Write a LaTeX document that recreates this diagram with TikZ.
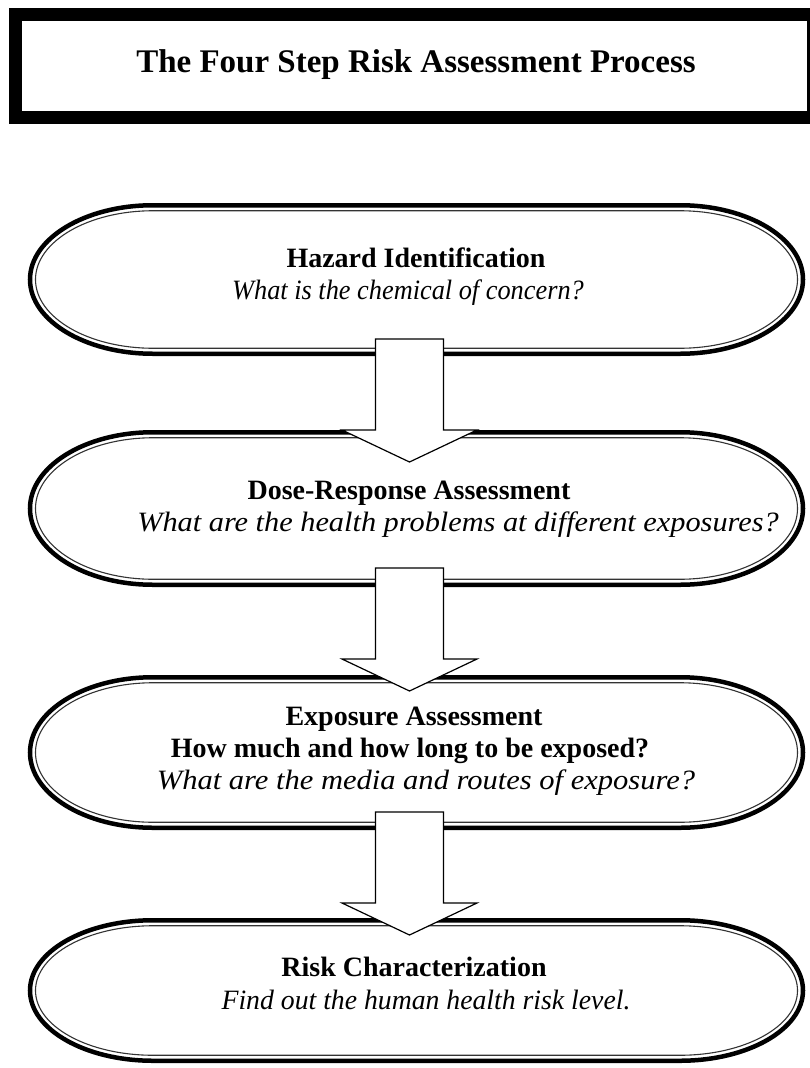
\documentclass[tikz,border=0pt]{standalone}
\usepackage{fontspec}
\setmainfont{Liberation Serif}
\newcommand\stadium[2]{%
  \pgfmathsetmacro\stadRy{(#2-#1)/2}%
  \pgfmathsetmacro\stadIRy{(#2-#1)/2-5.5}%
  \pgfmathsetmacro\stadIT{#1+5.5}%
  \pgfmathsetmacro\stadIB{#2-5.5}%
  \filldraw[fill=white,draw=black,line width=4.5pt]
    (153,#1) arc[start angle=90,end angle=270,x radius=123pt,y radius=\stadRy pt]
    -- (680,#2) arc[start angle=-90,end angle=90,x radius=123pt,y radius=\stadRy pt] -- cycle;
  \draw[draw=black!80,line width=1.1pt]
    (153,\stadIT) arc[start angle=90,end angle=270,x radius=117.5pt,y radius=\stadIRy pt]
    -- (680,\stadIB) arc[start angle=-90,end angle=90,x radius=117.5pt,y radius=\stadIRy pt] -- cycle;}
\tikzset{
  boldline/.style={font=\fontsize{28}{32}\selectfont\bfseries,anchor=base,inner sep=0pt},
  itline/.style={font=\fontsize{28}{32}\selectfont\itshape,anchor=base,inner sep=0pt},
  titletext/.style={font=\fontsize{33}{38}\selectfont\bfseries,anchor=base,inner sep=0pt},
  barrow/.style={draw=black,fill=white,line width=1.2pt,line join=miter}
}
\newcommand\blockarrow[1]{%
  \draw[barrow] (#1) ++(-34,0) -- ++(68,0) -- ++(0,91) -- ++(33.5,0) -- ++(-67.5,32)
    -- ++(-67.5,-32) -- ++(33.5,0) -- cycle;}
\begin{document}
\begin{tikzpicture}[x=1pt,y=-1pt]
\useasboundingbox (0,0) rectangle (810,1068);
\fill[white] (0,0) rectangle (810,1068);
% title box
\draw[line width=13pt,line join=miter] (15.5,14.5) rectangle (813,117.5);
\node[titletext] (title) at (416,72) {The Four Step Risk Assessment Process};
% boxes
\stadium{205.25}{353.75}
\stadium{432.25}{584.75}
\stadium{677.25}{827.75}
\stadium{920.25}{1060.75}
% arrows
\coordinate (a1) at (409.5,339);
\coordinate (a2) at (409.5,568);
\coordinate (a3) at (409.5,812);
\blockarrow{a1}
\blockarrow{a2}
\blockarrow{a3}
% texts
\node[boldline] (h1) at (416,267) {Hazard Identification};
\node[itline] (q1) at (408,299) {\scalebox{0.94}[1]{What is the chemical of concern?}};
\node[boldline] (h2) at (409,499) {Dose-Response Assessment};
\node[itline] (q2) at (458,531) {\scalebox{1.083}[1]{What are the health problems at different exposures?}};
\node[boldline] (h3) at (414,725) {Exposure Assessment};
\node[boldline] (h3b) at (410,757) {How much and how long to be exposed?};
\node[itline] (q3) at (426,789) {\scalebox{1.09}[1]{What are the media and routes of exposure?}};
\node[boldline] (h4) at (414,976) {Risk Characterization};
\node[itline] (q4) at (426,1009) {\scalebox{0.99}[1]{Find out the human health risk level.}};
\end{tikzpicture}
\end{document}
